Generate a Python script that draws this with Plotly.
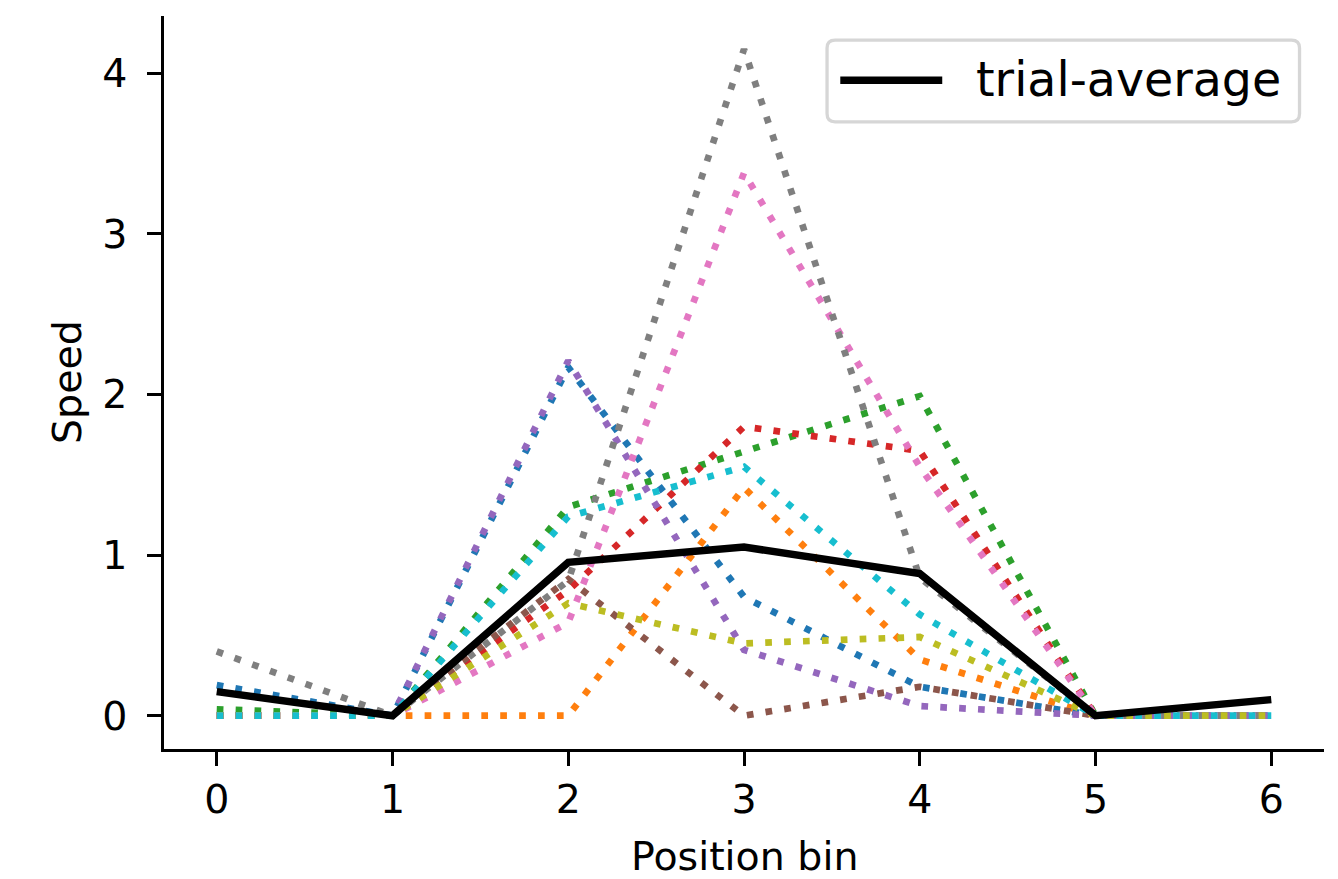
import plotly.graph_objects as go

positions = [0, 1, 2, 3, 4, 5, 6]
tick_labels = ["0", "1", "2", "3", "4", "5", "6"]
y_ticks = [0, 1, 2, 3, 4]

trial_0 = [0.19, 0.0, 2.17, 0.74, 0.18, 0.0, 0.0]
trial_1 = [0.0, 0.0, 0.0, 1.42, 0.35, 0.0, 0.0]
trial_2 = [0.04, 0.0, 1.30, 1.65, 1.99, 0.0, 0.0]
trial_3 = [0.0, 0.0, 0.78, 1.80, 1.65, 0.0, 0.0]
trial_4 = [0.0, 0.0, 2.21, 0.41, 0.06, 0.0, 0.0]
trial_5 = [0.0, 0.0, 0.85, 0.0, 0.18, 0.0, 0.0]
trial_6 = [0.0, 0.0, 0.58, 3.38, 1.55, 0.0, 0.0]
trial_7 = [0.40, 0.0, 0.84, 4.15, 0.86, 0.0, 0.0]
trial_8 = [0.0, 0.0, 0.70, 0.45, 0.49, 0.0, 0.0]
trial_9 = [0.0, 0.0, 1.24, 1.55, 0.63, 0.0, 0.0]
trial_average = [0.15, 0.0, 0.955, 1.05, 0.885, 0.0, 0.10]

trials = [trial_0, trial_1, trial_2, trial_3, trial_4,
          trial_5, trial_6, trial_7, trial_8, trial_9]
colors = ["#1f77b4", "#ff7f0e", "#2ca02c", "#d62728", "#9467bd",
          "#8c564b", "#e377c2", "#7f7f7f", "#bcbd22", "#17becf"]

legend_label = "trial-average"
x_title = "Position bin"
y_title = "Speed"

fig = go.Figure()
for vals, col in zip(trials, colors):
    fig.add_trace(go.Scatter(
        x=positions, y=vals, mode="lines",
        line=dict(color=col, width=6.7, dash="6.7px,12.2px"),
        showlegend=False, hoverinfo="skip"))

fig.add_trace(go.Scatter(
    x=positions, y=trial_average, mode="lines",
    line=dict(color="black", width=7.5),
    name=legend_label, showlegend=False))

axis_common = dict(
    showline=True, linecolor="black", linewidth=3.3,
    ticks="outside", ticklen=13.5, tickwidth=3.3, tickcolor="black",
    showgrid=False, zeroline=False, mirror=False, automargin=False,
    tickfont=dict(size=39.5, color="black"),
)


def rounded_rect(x0, y0, x1, y1, rx, ry):
    return (f"M{x0+rx},{y0} L{x1-rx},{y0} Q{x1},{y0} {x1},{y0+ry} "
            f"L{x1},{y1-ry} Q{x1},{y1} {x1-rx},{y1} L{x0+rx},{y1} "
            f"Q{x0},{y1} {x0},{y1-ry} L{x0},{y0+ry} Q{x0},{y0} {x0+rx},{y0} Z")


shapes = [
    dict(type="path", xref="paper", yref="paper",
         path=rounded_rect(0.5716, 0.8556, 0.9789, 0.9672, 0.0069, 0.0109),
         fillcolor="white", line=dict(color="#d6d6d6", width=3.3), layer="above"),
    dict(type="line", xref="paper", yref="paper",
         x0=0.5830, x1=0.6709, y0=0.9125, y1=0.9125,
         line=dict(color="black", width=7.5), layer="above"),
]

annotations = [
    dict(text=legend_label, xref="paper", yref="paper", x=0.6987, y=0.9139,
         xanchor="left", yanchor="middle", showarrow=False,
         font=dict(size=47.5, color="black")),
    dict(text=x_title, xref="paper", yref="paper", x=0.5, y=-0.1466,
         xanchor="center", yanchor="middle", showarrow=False,
         height=40, valign="middle",
         font=dict(size=39.5, color="black")),
    dict(text=y_title, xref="paper", yref="paper", x=-0.0830, y=0.5003,
         xanchor="center", yanchor="middle", showarrow=False, textangle=-90,
         font=dict(size=39.5, color="black")),
]

fig.update_layout(
    width=1338, height=879,
    margin=dict(l=164.3, r=13.5, t=15.9, b=130.4, autoexpand=False),
    paper_bgcolor="white", plot_bgcolor="white",
    font=dict(family="DejaVu Sans", size=39.5, color="black"),
    xaxis=dict(range=[-0.3, 6.3], tickvals=positions, ticktext=tick_labels,
               ticklabelstandoff=0, **axis_common),
    yaxis=dict(range=[-0.2075, 4.3575], tickvals=y_ticks,
               ticklabelstandoff=12, **axis_common),
    shapes=shapes, annotations=annotations, showlegend=False,
)

# remove the browser's default 8px page margin so the figure fills the window
fig.write_html("out.html",
               config={"displayModeBar": False},
               post_script="document.body.style.margin='0px';"
                           "document.body.style.overflow='hidden';")
